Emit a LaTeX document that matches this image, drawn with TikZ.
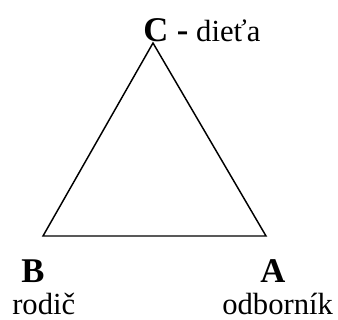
\documentclass[tikz,border=0pt]{standalone}
\usepackage{fontspec}
\setmainfont{Liberation Serif}
\begin{document}
\begin{tikzpicture}[x=0.75pt,y=-0.75pt,
  lbl/.style={inner sep=0pt,anchor=base west,font=\fontsize{23}{26}\selectfont},
  big/.style={inner sep=0pt,anchor=base west,font=\fontsize{26}{30}\selectfont\bfseries},
  edge/.style={line width=1.1pt,line join=miter}]
\useasboundingbox (0,0) rectangle (338,320);
\coordinate (C) at (153,43);
\coordinate (B) at (43,236);
\coordinate (A) at (266,236);
\draw[edge] (C) -- (B) -- (A) -- cycle;
\node[lbl] (ct) at (143,42) {{\fontsize{26}{30}\selectfont\bfseries C -} dieťa};
\node[big] (bt) at (21,282) {B};
\node[big] (at) at (260,282) {A};
\node[lbl,text depth=0pt] (bl) at (12,314) {rodič};
\node[lbl,text depth=0pt] (al) at (222,314) {odborník};
\end{tikzpicture}
\end{document}
